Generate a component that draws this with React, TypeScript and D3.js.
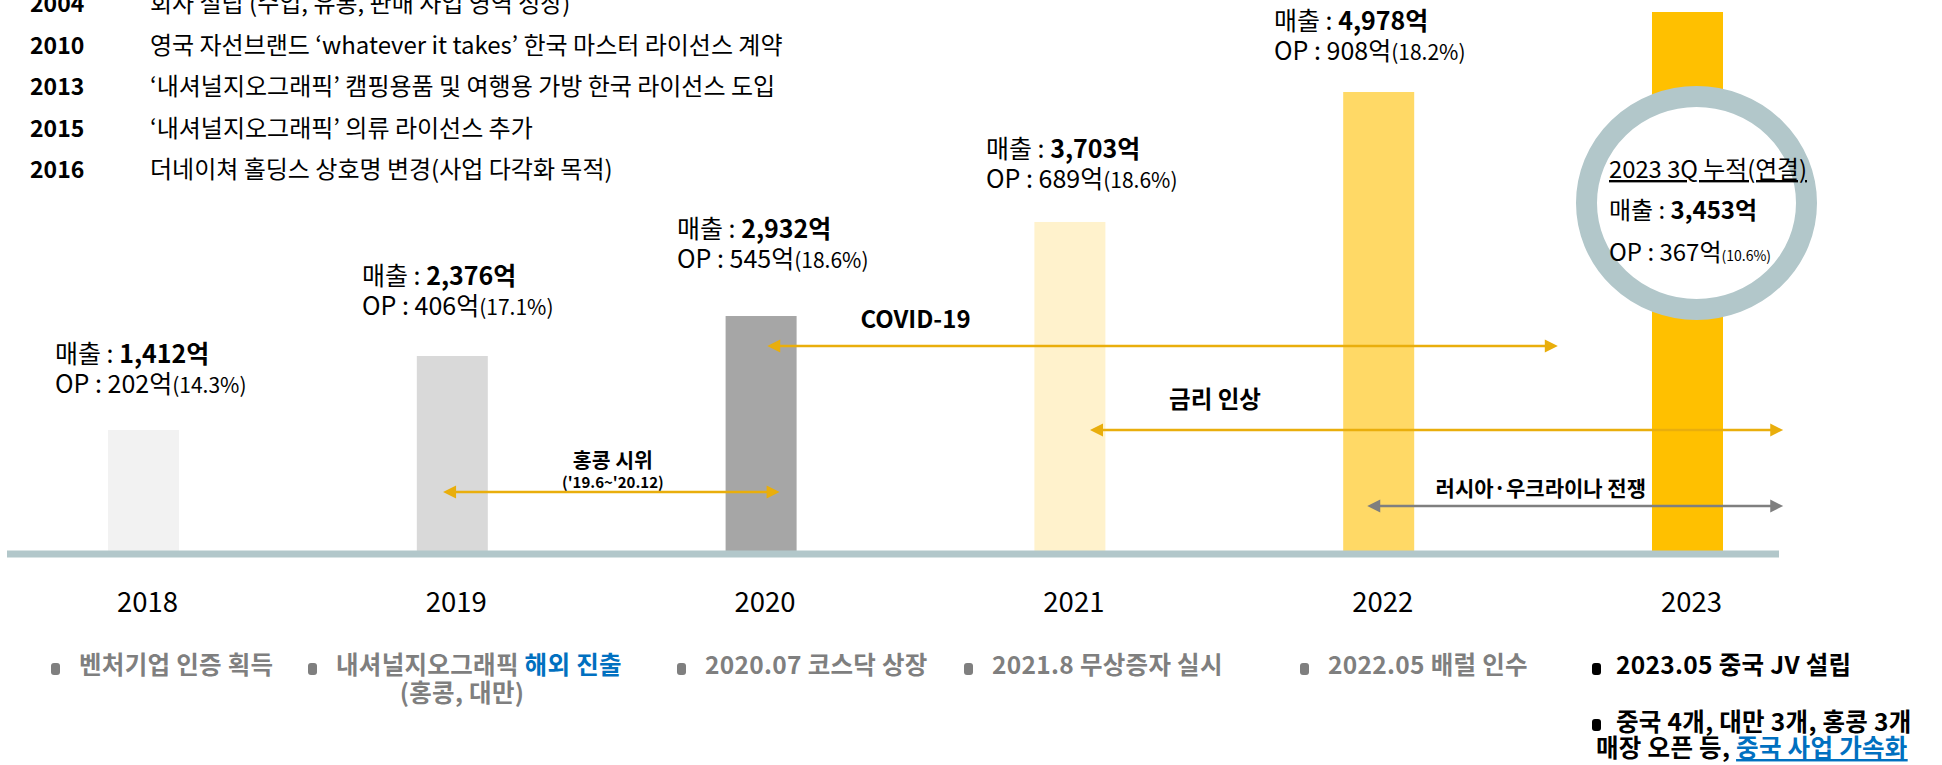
import React from 'react';
import * as d3 from 'd3';

// ---------------- DATA ----------------
const years = ['2018', '2019', '2020', '2021', '2022', '2023'];
// bar heights as drawn in the picture (억 scale units)
const barLevels = [1356, 2178, 2622, 3667, 5111, 6000];
const barColors = ['#F2F2F2', '#D9D9D9', '#A6A6A6', '#FFF2CC', '#FFD966', '#FFC000'];

const revenueLabels = ['1,412억', '2,376억', '2,932억', '3,703억', '4,978억'];
const opLabels = ['202억', '406억', '545억', '689억', '908억'];
const marginLabels = ['(14.3%)', '(17.1%)', '(18.6%)', '(18.6%)', '(18.2%)'];

const historyYears = ['2004', '2010', '2013', '2015', '2016'];
const historyTexts = [
  '회사 설립 (수입, 유통, 판매 사업 영역 성장)',
  '영국 자선브랜드 ‘whatever it takes’ 한국 마스터 라이선스 계약',
  '‘내셔널지오그래픽’ 캠핑용품 및 여행용 가방 한국 라이선스 도입',
  '‘내셔널지오그래픽’ 의류 라이선스 추가',
  '더네이쳐 홀딩스 상호명 변경(사업 다각화 목적)',
];

const circleTitle = '2023 3Q 누적(연결)';
const circleRevenue = '3,453억';
const circleOp = '367억';
const circleMargin = '(10.6%)';

// events: start / end / label position in fractional years
const eventNames = ['홍콩 시위', 'COVID-19', '금리 인상', '러시아·우크라이나 전쟁'];
const eventSubs = ["('19.6~'20.12)", '', '', ''];
const eventStart = [2018.97, 2020.02, 2021.065, 2021.963];
const eventEnd = [2020.06, 2022.58, 2023.31, 2023.31];
const eventLabelAt = [2019.52, 2020.5, 2021.47, 2022.525];

const noteTexts = [
  '벤처기업 인증 획득',
  '내셔널지오그래픽 ',
  '2020.07 코스닥 상장',
  '2021.8 무상증자 실시',
  '2022.05 배럴 인수',
  '2023.05 중국 JV 설립',
];

// ---------------- LAYOUT ----------------
const W = 1942;
const H = 765;
const FONT = "'Noto Sans CJK KR', 'Noto Sans', sans-serif";
const baseY = 552;
const barW = 71;
const labelX = [55, 362, 677, 986, 1274];
const labelDy = [-67, -71, -78, -64, -62];
const eventY = [492, 346, 430, 506];
const eventColors = ['#E9AE0C', '#E9AE0C', '#E9AE0C', '#7F7F7F'];
const eventFont = [20.5, 24, 23.5, 21];
const eventTextDy = [-24, -18, -22, -10];
const noteX = [51, 308, 677, 964, 1300, 1592];
const GRAY = '#7F7F7F';
const BLUE = '#0070C0';
const RING = '#B2C7CA';
const NOTE_FS = 24.5;
const NOTE_LS = 0.3;

export default function App() {
  const x = d3.scalePoint<string>().domain(years).range([143.5, 1687.5]);
  const xYear = d3.scaleLinear().domain([2018, 2023]).range([143.5, 1687.5]);
  const y = d3.scaleLinear().domain([0, 6000]).range([baseY, 12]);

  const arrow = (x1: number, x2: number, yy: number, color: string, key: string) => {
    const L = 13;
    const h = 6.5;
    return (
      <g key={key}>
        <line x1={x1 + L - 1} x2={x2 - L + 1} y1={yy} y2={yy} stroke={color} strokeWidth={2.5} />
        <polygon points={`${x1},${yy} ${x1 + L},${yy - h} ${x1 + L},${yy + h}`} fill={color} />
        <polygon points={`${x2},${yy} ${x2 - L},${yy - h} ${x2 - L},${yy + h}`} fill={color} />
      </g>
    );
  };

  const cx = x('2023')! + 9;
  const cy = 203;

  return (
    <svg
      width={W}
      height={H}
      viewBox={`0 0 ${W} ${H}`}
      style={{ position: 'absolute', left: 0, top: 0, display: 'block', background: '#fff' }}
      fontFamily={FONT}
    >
      <rect x={0} y={0} width={W} height={H} fill="#fff" />

      {/* history list */}
      {historyYears.map((yr, i) => (
        <g key={yr}>
          <text x={30} y={12 + i * 41.5} fontSize={23} fontWeight={700} fill="#000">
            {yr}
          </text>
          <text x={150} y={12 + i * 41.5} fontSize={24} fill="#000">
            {historyTexts[i]}
          </text>
        </g>
      ))}

      {/* bars */}
      {years.map((yr, i) => (
        <rect
          key={yr}
          x={x(yr)! - barW / 2}
          y={y(barLevels[i])}
          width={barW}
          height={baseY - y(barLevels[i])}
          fill={barColors[i]}
        />
      ))}

      {/* axis band */}
      <rect x={7} y={550.5} width={1772} height={7} fill={RING} />

      {/* year labels */}
      {years.map((yr) => (
        <text key={yr} x={x(yr)! + 4} y={612} fontSize={27.5} textAnchor="middle" fill="#000">
          {yr}
        </text>
      ))}

      {/* bar labels */}
      {revenueLabels.map((rv, i) => {
        const top = y(barLevels[i]);
        return (
          <g key={rv}>
            <text x={labelX[i]} y={top + labelDy[i]} fontSize={25} fill="#000">
              매출 : <tspan fontWeight={700}>{rv}</tspan>
            </text>
            <text x={labelX[i]} y={top + labelDy[i] + 30} fontSize={25} fill="#000">
              OP : {opLabels[i]}
              <tspan fontSize={21}>{marginLabels[i]}</tspan>
            </text>
          </g>
        );
      })}

      {/* 2023 circle */}
      <ellipse cx={cx} cy={cy} rx={110} ry={106.5} fill="#fff" stroke={RING} strokeWidth={21} />
      <text x={1609} y={178} fontSize={23.8} fill="#000" textDecoration="underline">
        {circleTitle}
      </text>
      <text x={1609} y={219} fontSize={24} fill="#000">
        매출 : <tspan fontWeight={700}>{circleRevenue}</tspan>
      </text>
      <text x={1609} y={261} fontSize={24} fill="#000">
        OP : {circleOp}
        <tspan fontSize={14}>{circleMargin}</tspan>
      </text>

      {/* event arrows */}
      {eventNames.map((nm, i) =>
        arrow(xYear(eventStart[i]), xYear(eventEnd[i]), eventY[i], eventColors[i], nm)
      )}
      {eventNames.map((nm, i) => (
        <g key={'t' + nm}>
          <text
            x={xYear(eventLabelAt[i])}
            y={eventY[i] + eventTextDy[i]}
            fontSize={eventFont[i]}
            fontWeight={700}
            textAnchor="middle"
            fill="#000"
          >
            {nm}
          </text>
          {eventSubs[i] && (
            <text
              x={xYear(eventLabelAt[i])}
              y={eventY[i] - 4}
              fontSize={15}
              fontWeight={700}
              textAnchor="middle"
              fill="#000"
            >
              {eventSubs[i]}
            </text>
          )}
        </g>
      ))}

      {/* bottom notes */}
      {noteX.map((nx, i) => (
        <rect
          key={'b' + i}
          x={nx}
          y={663}
          width={9}
          height={12}
          rx={3}
          fill={i === 5 ? '#000' : GRAY}
        />
      ))}
      <rect x={noteX[5]} y={719} width={9} height={12} rx={3} fill="#000" />
      {noteTexts.map((t, i) => (
        <text
          key={'n' + i}
          x={noteX[i] + (i === 5 ? 24 : 28)}
          y={674}
          fontSize={NOTE_FS}
          letterSpacing={NOTE_LS}
          fontWeight={700}
          fill={i === 5 ? '#000' : GRAY}
        >
          {t}
          {i === 1 && <tspan fill={BLUE}>해외 진출</tspan>}
        </text>
      ))}
      <text
        x={462}
        y={702}
        fontSize={NOTE_FS}
        letterSpacing={NOTE_LS}
        fontWeight={700}
        fill={GRAY}
        textAnchor="middle"
      >
        (홍콩, 대만)
      </text>
      <text x={1616} y={731} fontSize={NOTE_FS} letterSpacing={NOTE_LS} fontWeight={700} fill="#000">
        중국 4개, 대만 3개, 홍콩 3개
      </text>
      <text x={1596} y={757} fontSize={NOTE_FS} letterSpacing={NOTE_LS} fontWeight={700} fill="#000">
        매장 오픈 등,{' '}
        <tspan fill={BLUE} textDecoration="underline">
          중국 사업 가속화
        </tspan>
      </text>
    </svg>
  );
}
